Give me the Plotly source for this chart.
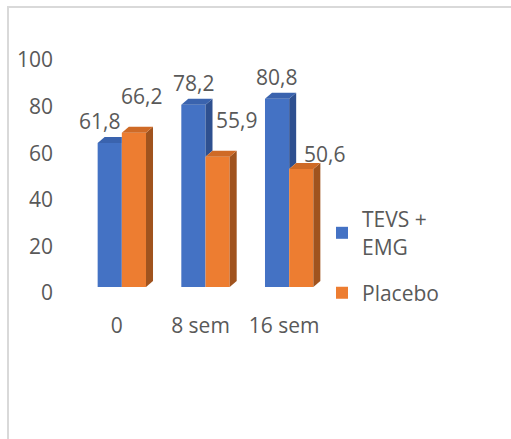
import plotly.graph_objs as go

# data
categories = ['0', '8 sem', '16 sem']
tevs_emg = [61.8, 78.2, 80.8]
placebo = [66.2, 55.9, 50.6]
labels_tevs = ['61,8', '78,2', '80,8']
labels_placebo = ['66,2', '55,9', '50,6']

# styling
font_family = 'Open Sans'
font_size = 21
text_color = '#595959'
blue = dict(front='#4472C4', top='#3A63AE', side='#2E5090')
orange = dict(front='#ED7D31', top='#CF6A26', side='#A0531E')

# plot area in pixels
W, H = 511, 439
L, R, T, B = 80, 331, 54, 287
bar_w = 0.289          # width of one bar in category units
dx = 7 / ((R - L) / 3)  # 3d depth, x (category units)
dy = 6 / ((B - T) / 100)  # 3d depth, y (value units)

# label nudges (px) for the value labels
shift_tevs = [(-10, 22), (0, 22), (-1, 22)]
shift_placebo = [(8, 37), (19, 37), (23, 15)]

xs = list(range(len(categories)))

fig = go.Figure()


def face(px, py, color):
    fig.add_trace(go.Scatter(x=px + [px[0]], y=py + [py[0]], mode='lines', fill='toself',
                             fillcolor=color, line=dict(width=0), hoverinfo='skip',
                             showlegend=False))


# blue fronts, orange fronts
fig.add_trace(go.Bar(x=xs, y=tevs_emg, name='TEVS +<br>EMG', width=bar_w, offset=-bar_w,
                     legendgroup='a', marker=dict(color=blue['front'], line=dict(width=0))))
fig.add_trace(go.Bar(x=xs, y=placebo, name='Placebo', width=bar_w, offset=0,
                     legendgroup='b', marker=dict(color=orange['front'], line=dict(width=0))))

# 3d faces of blue bars (clipped where the orange bar stands in front)
for i, (b, o) in enumerate(zip(tevs_emg, placebo)):
    left, right = i - bar_w, i
    if b > o:
        face([right, right, right + dx, right + dx], [o, b, b + dy, o + dy], blue['side'])
        face([left, right, right + dx, left + dx], [b, b, b + dy, b + dy], blue['top'])
    else:
        face([left, right, right, left + dx], [b, b, b + dy, b + dy], blue['top'])

# 3d faces of orange bars
for i, o in enumerate(placebo):
    left, right = i, i + bar_w
    face([right, right, right + dx, right + dx], [0, o, o + dy, dy], orange['side'])
    face([left, right, right + dx, left + dx], [o, o, o + dy, o + dy], orange['top'])

annotations = []
for i in xs:
    for val, txt, (sx, sy), off in [(tevs_emg[i], labels_tevs[i], shift_tevs[i], -bar_w / 2),
                                    (placebo[i], labels_placebo[i], shift_placebo[i], bar_w / 2)]:
        annotations.append(dict(x=i + off, y=val, text=txt, showarrow=False, xshift=sx, yshift=sy,
                                font=dict(family=font_family, size=font_size, color=text_color)))


def paper_x(px):
    return (px - L) / (R - L)


def paper_y(py):
    return (B - py) / (B - T)


fig.update_layout(
    width=W, height=H,
    margin=dict(l=L, r=W - R, t=T, b=H - B, autoexpand=False),
    paper_bgcolor='white', plot_bgcolor='white',
    font=dict(family=font_family, size=font_size, color=text_color),
    barmode='overlay',
    showlegend=True,
    legend=dict(x=paper_x(322), y=paper_y(199), xanchor='left', yanchor='top',
                font=dict(size=font_size, color=text_color), tracegroupgap=16, itemwidth=30),
    annotations=annotations,
    shapes=[dict(type='rect', xref='paper', yref='paper',
                 x0=paper_x(8), x1=paper_x(530), y0=paper_y(7), y1=paper_y(460),
                 line=dict(color='#D9D9D9', width=2), layer='below')],
)
fig.update_xaxes(range=[-0.5, 2.5], tickvals=xs, ticktext=categories, showgrid=False,
                 zeroline=False, showline=False, ticks='', ticklabelstandoff=24, ticklabelshift=-5)
fig.update_yaxes(range=[0, 100], tickvals=[0, 20, 40, 60, 80, 100], showgrid=False,
                 zeroline=False, showline=False, ticks='', ticklabelstandoff=26, ticklabelshift=6)

fig.write_html('out.html', config={'displayModeBar': False},
               post_script="document.body.style.margin='0px';")
